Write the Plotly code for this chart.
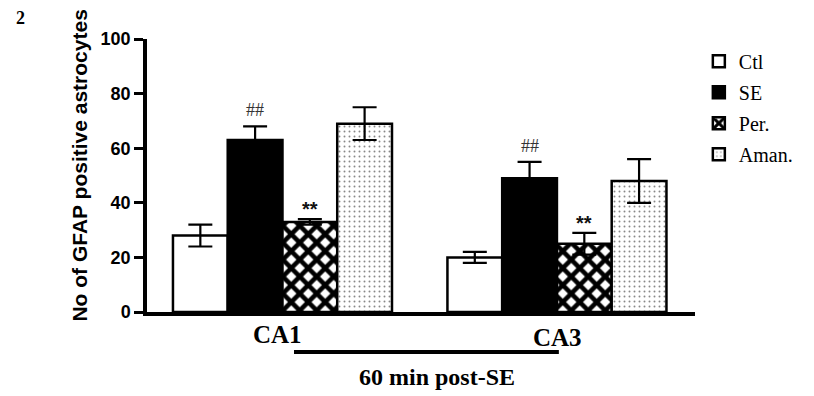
import plotly.graph_objects as go

# ---- data ----
regions = ["CA1", "CA3"]
groups = ["Ctl", "SE", "Per.", "Aman."]
ctl = [28, 20]
ctl_err = [4, 2]
se = [63, 49]
se_err = [5, 6]
per = [33, 25]
per_err = [1, 4]
aman = [69, 48]
aman_err = [6, 8]
y_ticks = [0, 20, 40, 60, 80, 100]
se_marks = ["##", "##"]
per_marks = ["**", "**"]

values = [ctl, se, per, aman]
errors = [ctl_err, se_err, per_err, aman_err]

x_idx = [0, 1]

BARGAP = 0.202
ngroups = len(groups)
bar_w = (1 - BARGAP) / ngroups

styles = [
    dict(color="white"),
    dict(color="black"),
    dict(color="white", pattern=dict(shape="x", fgcolor="black", bgcolor="white", fgopacity=1,
                                      size=12, solidity=0.62)),
    dict(color="white", pattern=dict(shape=".", fgcolor="#111", bgcolor="white", size=5, solidity=0.12)),
]

fig = go.Figure()
for i, (name, vals, errs, st) in enumerate(zip(groups, values, errors, styles)):
    marker = dict(line=dict(color="black", width=2.5))
    marker.update(st)
    fig.add_trace(go.Bar(
        x=x_idx, y=vals, name=name, marker=marker,
        error_y=dict(type="data", array=errs, visible=True, color="black", thickness=2.2, width=12),
        legendgroup=name,
    ))

fig.update_layout(
    barmode="group", bargap=BARGAP, bargroupgap=0,
    width=814, height=396,
    margin=dict(l=139, r=127, t=31, b=92),
    plot_bgcolor="white", paper_bgcolor="white",
    showlegend=True,
    legend=dict(x=1.007, y=0.99, xanchor="left", yanchor="top",
                font=dict(family="Liberation Serif", size=20, color="black"),
                tracegroupgap=2, itemwidth=30, bgcolor="rgba(0,0,0,0)"),
    font=dict(family="Liberation Sans", color="black"),
)

fig.update_xaxes(range=[-0.4936, 1.503], showline=True, linecolor="black", linewidth=3.5,
                 showticklabels=False, ticks="", showgrid=False, zeroline=False)
fig.update_yaxes(range=[0, 100], tickvals=y_ticks, showline=True, linecolor="black", linewidth=3.5,
                 ticks="outside", ticklen=9, tickwidth=3, tickcolor="black",
                 tickfont=dict(family="Liberation Sans", size=18, weight="bold", color="black"),
                 showgrid=False, zeroline=False)

# significance marks
off_se = -0.5 * bar_w
off_per = 0.5 * bar_w
for j in x_idx:
    fig.add_annotation(x=j + off_se, y=se[j] + se_err[j], text=se_marks[j], showarrow=False,
                       xanchor="center", yanchor="bottom", yshift=4,
                       font=dict(family="Liberation Serif", size=18, color="#333"))
    fig.add_annotation(x=j + off_per, y=per[j] + per_err[j], text=per_marks[j], showarrow=False,
                       xanchor="center", yanchor="bottom", yshift=-3,
                       font=dict(family="Liberation Sans", size=20, weight="bold", color="#111"))

# region labels
fig.add_annotation(x=0, y=-0.0806, xref="x", yref="paper", text="CA1", showarrow=False, xshift=-5,
                   xanchor="center", yanchor="middle",
                   font=dict(family="Liberation Serif", size=25, weight="bold", color="black"))
fig.add_annotation(x=1, y=-0.0916, xref="x", yref="paper", text="CA3", showarrow=False, xshift=1,
                   xanchor="center", yanchor="middle",
                   font=dict(family="Liberation Serif", size=25, weight="bold", color="black"))

# bracket line + label
fig.add_shape(type="line", xref="x", yref="paper", x0=0.042, x1=1.007, y0=-0.1465, y1=-0.1465,
              line=dict(color="black", width=4))
fig.add_annotation(x=0.563, y=-0.238, xref="x", yref="paper", text="60 min post-SE", showarrow=False,
                   xanchor="center", yanchor="middle",
                   font=dict(family="Liberation Serif", size=24, weight="bold", color="black"))

# y title
fig.add_annotation(x=-0.123, y=0.535, xref="paper", yref="paper", text="No of GFAP positive astrocytes",
                   textangle=-90, showarrow=False, xanchor="center", yanchor="middle",
                   font=dict(family="Liberation Sans", size=21, weight="bold", color="black"))

# panel number
fig.add_annotation(x=-0.23, y=1.077, xref="paper", yref="paper", text="2", showarrow=False,
                   xanchor="center", yanchor="middle",
                   font=dict(family="Liberation Serif", size=18, weight="bold", color="black"))

fig.write_html("out.html")
